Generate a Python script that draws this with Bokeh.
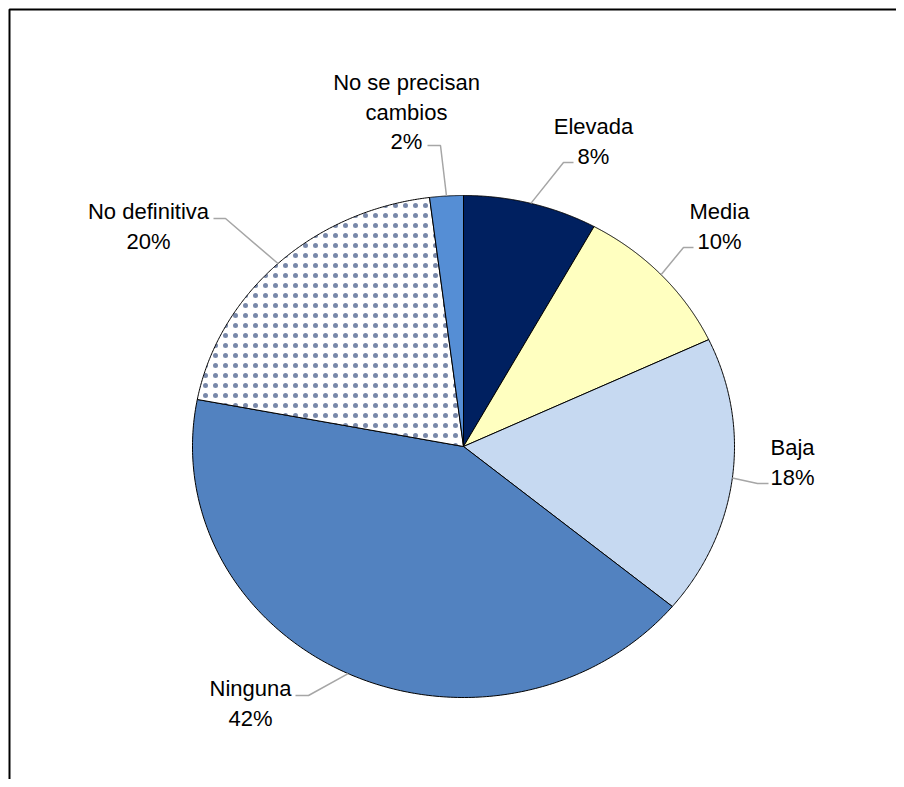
import numpy as np
from bokeh.plotting import figure
from bokeh.models import Range1d, ColumnDataSource
from bokeh.core.properties import value
from bokeh.embed import file_html
from bokeh.resources import INLINE

# ---- data ----
categories = ["Elevada", "Media", "Baja", "Ninguna", "No definitiva", "No se precisan\ncambios"]
shares = [8, 10, 18, 42, 20, 2]
pct_labels = ["8%", "10%", "18%", "42%", "20%", "2%"]

# ---- styles ----
colors = ["#002060", "#FFFFC0", "#C6D9F1", "#5282C0", "#FFFFFF", "#558ED5"]
hatches = [" ", " ", " ", " ", "dot", " "]

# ---- layout (page pixels) ----
W, H = 896, 779
CX, CY, RX, RY = 463, 446, 271, 251
label_x = [593, 719, 792, 250, 148, 406]
label_y0 = [126, 211, 447, 688, 211, 82]
elbow_x = [563, 683, 757, 308, 225, 440]
elbow_y = [162, 247, 483, 695, 218, 145]
tail_x = [573, 693, 768, 295, 213, 427]
LINE_H = 29.5
BORDER = 9

p = figure(width=W, height=H, output_backend="svg", toolbar_location=None,
           x_range=Range1d(0, W), y_range=Range1d(H, 0),
           x_axis_location=None, y_axis_location=None, min_border=0)
p.grid.visible = False
p.outline_line_color = None
p.background_fill_color = "white"
p.border_fill_color = "white"

total = float(sum(shares))
cum = np.concatenate([[0], np.cumsum(shares)]) / total * 2 * np.pi
xs, ys = [], []
for i in range(len(shares)):
    a = np.linspace(cum[i], cum[i + 1], 200)
    xs.append(np.concatenate([[CX], CX + RX * np.sin(a), [CX]]).tolist())
    ys.append(np.concatenate([[CY], CY - RY * np.cos(a), [CY]]).tolist())

src = ColumnDataSource(dict(xs=xs, ys=ys, fill=colors, hatch=hatches))
p.patches("xs", "ys", source=src, fill_color="fill", line_color="black", line_width=1,
          hatch_pattern="hatch", hatch_color="#3F5585", hatch_scale=10, hatch_weight=0.3,
          hatch_alpha=0.7)

# leader lines
mid = (cum[:-1] + cum[1:]) / 2
lx, ly = [], []
for i in range(len(shares)):
    ex = CX + RX * np.sin(mid[i])
    ey = CY - RY * np.cos(mid[i])
    lx.append([ex, elbow_x[i], tail_x[i]])
    ly.append([ey, elbow_y[i], elbow_y[i]])
p.multi_line(lx, ly, line_color="#A6A6A6", line_width=1.5)

# labels
tx, ty, tt = [], [], []
for i, name in enumerate(categories):
    lines = name.split("\n") + [pct_labels[i]]
    for j, t in enumerate(lines):
        tx.append(label_x[i])
        ty.append(label_y0[i] + j * LINE_H)
        tt.append(t)
p.text(tx, ty, text=tt, text_font=value("Liberation Sans"), text_font_size=value("22px"),
       text_align="center", text_baseline="alphabetic", text_color="black")

# chart-area border (only left and top edges fall inside the picture)
p.multi_line([[BORDER, BORDER, W + 10]], [[H + 10, BORDER, BORDER]],
             line_color="black", line_width=2)

open("out.html", "w").write(file_html(p, INLINE))
